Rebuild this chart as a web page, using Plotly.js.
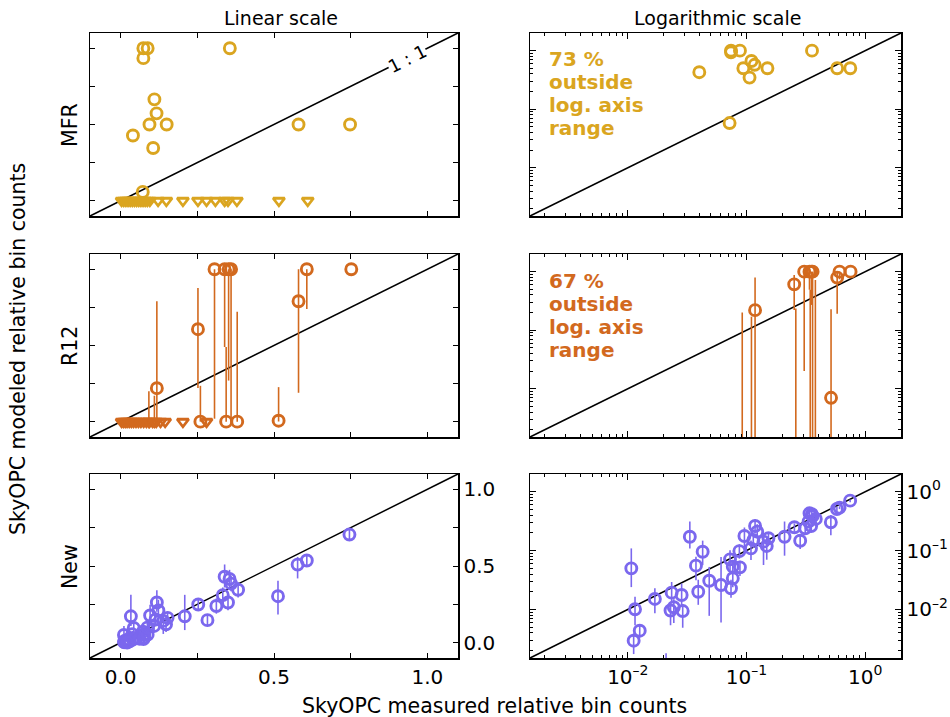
<!DOCTYPE html>
<html><head><meta charset="utf-8">
<script src="https://cdn.plot.ly/plotly-3.0.1.min.js"></script>
<style>html,body{margin:0;padding:0;background:#fff}</style>
</head><body><div id="chart" style="width:950px;height:717px"></div>
<script>
const colMFR = '#DAA520', colR12 = '#D2691E', colNew = '#7B68EE';

// ---- MFR (no uncertainty) ----
const mfrX = [0.074, 0.088, 0.356, 0.074, 0.11, 0.117, 0.094, 0.15, 0.04, 0.106, 0.58, 0.748, 0.072];
const mfrY = [1.0, 1.0, 1.0, 0.935, 0.665, 0.573, 0.5, 0.5, 0.428, 0.346, 0.5, 0.5, 0.058];
const mfrZeroX = [0.003, 0.01, 0.017, 0.024, 0.031, 0.038, 0.045, 0.052, 0.059, 0.066, 0.073, 0.08, 0.087, 0.095, 0.122, 0.149,
                  0.203, 0.252, 0.28, 0.309, 0.339, 0.35, 0.379, 0.516, 0.61];
const mfrZeroY = mfrZeroX.map(() => 0);

// ---- R12 ----
const r12X = [0.118, 0.252, 0.26, 0.306, 0.339, 0.352, 0.36, 0.344, 0.38, 0.515, 0.58, 0.607, 0.752];
const r12Y = [0.22, 0.607, 0.0005, 1.0, 1.0, 1.0, 1.0, 0.0005, 0.0005, 0.007, 0.79, 1.0, 1.0];
const r12Plus = [0.57, 0.27, 0.235, 0, 0, 0, 0, 0.49, 0.72, 0.22, 0.21, 0, 0];
const r12Minus = [0.219, 0.386, 0, 0.98, 0.51, 0.73, 0.9995, 0, 0, 0.0055, 0.6, 0.26, 0];
const r12LowX = [0.092, 0.11];
const r12LowY = [0.0005, 0.0005];
const r12LowPlus = [0.2, 0.17];
const r12ZeroX = [0.003, 0.009, 0.015, 0.021, 0.028, 0.035, 0.042, 0.05, 0.058, 0.066, 0.075, 0.084, 0.094, 0.104, 0.116, 0.13, 0.145, 0.203, 0.28];
const r12ZeroY = r12ZeroX.map(() => 0);

// ---- New ----
const newX = [0.0107, 0.0115, 0.0112, 0.0126, 0.0169, 0.0234, 0.0229, 0.0244, 0.0284, 0.029,
              0.0333, 0.0375, 0.0392, 0.0427, 0.0485, 0.061, 0.074, 0.0726, 0.0766, 0.0766,
              0.088, 0.087, 0.096, 0.109, 0.118, 0.123, 0.114, 0.139, 0.148, 0.153,
              0.209, 0.253, 0.283, 0.312, 0.339, 0.355, 0.333, 0.35, 0.383, 0.36,
              0.513, 0.577, 0.607, 0.746, 0.021];
const newY = [0.050, 0.0101, 0.00295, 0.00436, 0.0151, 0.0193, 0.0096, 0.0109, 0.0176, 0.0094,
              0.172, 0.0555, 0.020, 0.0957, 0.0308, 0.026, 0.0229, 0.071, 0.0533, 0.0339,
              0.052, 0.098, 0.177, 0.109, 0.262, 0.21, 0.151, 0.142, 0.12, 0.162,
              0.172, 0.249, 0.147, 0.239, 0.43, 0.415, 0.31, 0.262, 0.345, 0.385,
              0.303, 0.509, 0.536, 0.705, 0.001];
const newPlus = [0.059, 0.0064, 0.001, 0.0012, 0.0078, 0.010, 0.003, 0.004, 0.010, 0.003,
                 0.14, 0.023, 0.012, 0.052, 0.022, 0.052, 0.009, 0.03, 0.015, 0.012,
                 0.015, 0.03, 0.07, 0.04, 0.08, 0.07, 0.04, 0.057, 0.05, 0.04,
                 0.14, 0.04, 0.04, 0.05, 0.08, 0.06, 0.05, 0.05, 0.05, 0.05,
                 0.1, 0.05, 0.03, 0.03, 0.0008];
const newMinus = [0.026, 0.0047, 0.0012, 0.001, 0.0065, 0.0057, 0.0042, 0.005, 0.006, 0.0045,
                  0.063, 0.024, 0.008, 0.039, 0.023, 0.020, 0.007, 0.025, 0.012, 0.01,
                  0.015, 0.025, 0.07, 0.04, 0.06, 0.05, 0.04, 0.085, 0.05, 0.04,
                  0.09, 0.04, 0.04, 0.05, 0.07, 0.06, 0.05, 0.05, 0.05, 0.05,
                  0.12, 0.09, 0.03, 0.04, 0.0005];

const linTickVals = [0, 0.25, 0.5, 0.75, 1.0];
const linTickText = ['0.0', '', '0.5', '', '1.0'];
const logTickVals = [0.01, 0.1, 1];
const logTickText = ['10<sup>–2</sup>', '10<sup>–1</sup>', '10<sup>0</sup>'];
const linRange = [-0.1, 1.1];
const logRange = [Math.log10(0.0015), Math.log10(2)];

const mfrNote = ['73 %', 'outside', 'log. axis', 'range'];
const r12Note = ['67 %', 'outside', 'log. axis', 'range'];

const FONT = 'DejaVu Sans';

function circles(x, y, xa, ya, color, plus, minus) {
  const t = {
    x: x, y: y, xaxis: xa, yaxis: ya, type: 'scatter', mode: 'markers',
    marker: {symbol: 'circle-open', size: 11, color: color, line: {width: 2.9, color: color}},
    hoverinfo: 'skip', showlegend: false
  };
  if (plus) {
    t.error_y = {type: 'data', symmetric: false, array: plus, arrayminus: minus || plus.map(() => 0),
                 color: color, thickness: 1.6, width: 0};
  }
  return t;
}
function tris(x, y, xa, ya, color, plus) {
  const t = {
    x: x, y: y, xaxis: xa, yaxis: ya, type: 'scatter', mode: 'markers',
    marker: {symbol: 'triangle-down-open', size: 10, color: color, line: {width: 2.8, color: color}},
    hoverinfo: 'skip', showlegend: false
  };
  if (plus) {
    t.error_y = {type: 'data', symmetric: false, array: plus, arrayminus: plus.map(() => 0),
                 color: color, thickness: 1.6, width: 0};
  }
  return t;
}

const data = [
  // MFR
  tris(mfrZeroX, mfrZeroY, 'x', 'y', colMFR),
  circles(mfrX, mfrY, 'x', 'y', colMFR),
  circles(mfrX, mfrY, 'x2', 'y2', colMFR),
  // R12
  tris(r12ZeroX, r12ZeroY, 'x3', 'y3', colR12),
  tris(r12LowX, r12LowY, 'x3', 'y3', colR12, r12LowPlus),
  circles(r12X, r12Y, 'x3', 'y3', colR12, r12Plus, r12Minus),
  tris(r12LowX, r12LowY, 'x4', 'y4', colR12, r12LowPlus),
  circles(r12X, r12Y, 'x4', 'y4', colR12, r12Plus, r12Minus),
  // New
  circles(newX, newY, 'x5', 'y5', colNew, newPlus, newMinus),
  circles(newX, newY, 'x6', 'y6', colNew, newPlus, newMinus)
];

const colL = [90 / 950, 458 / 950], colR = [530 / 950, 901 / 950];
const rowT = [1 - 216 / 717, 1 - 33 / 717], rowM = [1 - 437 / 717, 1 - 254 / 717], rowB = [1 - 658 / 717, 1 - 474 / 717];

const base = {
  showgrid: false, zeroline: false, showline: true, linecolor: 'black', linewidth: 1.5,
  mirror: 'allticks', ticks: 'inside', ticklen: 5, tickwidth: 1, tickcolor: 'black',
  tickfont: {family: FONT, size: 20, color: 'black'}, fixedrange: true
};
function linAx(domain, anchor, labels, side) {
  return Object.assign({}, base, {
    domain: domain, anchor: anchor, range: linRange, tickmode: 'array',
    tickvals: linTickVals, ticktext: linTickText, showticklabels: labels, side: side
  });
}
function logAx(domain, anchor, labels, side) {
  return Object.assign({}, base, {
    type: 'log', domain: domain, anchor: anchor, range: logRange, tickmode: 'array',
    tickvals: logTickVals, ticktext: logTickText, showticklabels: labels, side: side, ticklen: 6,
    minor: {ticks: 'inside', ticklen: 3, tickwidth: 1, tickcolor: 'black', dtick: 'D1', showgrid: false}
  });
}

function diag(n) {
  const s = n === 1 ? '' : String(n);
  return {type: 'line', xref: 'x' + s + ' domain', yref: 'y' + s + ' domain', x0: 0, y0: 0, x1: 1, y1: 1,
          line: {color: 'black', width: 1.5}, layer: 'below'};
}

const ann = [];
function txt(px, py, text, opts) {
  ann.push(Object.assign({xref: 'paper', yref: 'paper', x: px / 950, y: 1 - py / 717, text: text,
    showarrow: false, xanchor: 'center', yanchor: 'middle',
    font: {family: FONT, size: 20.5, color: 'black'}}, opts || {}));
}
txt(281, 18, 'Linear scale', {font: {family: FONT, size: 19, color: 'black'}});
txt(717, 18, 'Logarithmic scale', {font: {family: FONT, size: 19, color: 'black'}});
txt(495, 706, 'SkyOPC measured relative bin counts');
txt(18, 349, 'SkyOPC modeled relative bin counts', {textangle: -90});
txt(70, 125, 'MFR', {textangle: -90});
txt(70, 346, 'R12', {textangle: -90});
txt(70, 567, 'New', {textangle: -90});
mfrNote.forEach((s, i) => txt(547, 59 + 23 * i, '<b>' + s + '</b>',
  {xanchor: 'left', font: {family: FONT, size: 20, color: colMFR}}));
r12Note.forEach((s, i) => txt(547, 281 + 23 * i, '<b>' + s + '</b>',
  {xanchor: 'left', font: {family: FONT, size: 20, color: colR12}}));
ann.push({xref: 'x', yref: 'y', x: 0.935, y: 0.935, text: '1 : 1', showarrow: false,
  textangle: -26.5, bgcolor: 'white', borderpad: 0, font: {family: FONT, size: 18, color: 'black'}});

const layout = {
  width: 950, height: 717, margin: {l: 0, r: 0, t: 0, b: 0},
  paper_bgcolor: 'white', plot_bgcolor: 'white', showlegend: false,
  font: {family: FONT, size: 18, color: 'black'},
  xaxis: linAx(colL, 'y', false, 'bottom'),
  yaxis: linAx(rowT, 'x', false, 'left'),
  xaxis2: logAx(colR, 'y2', false, 'bottom'),
  yaxis2: logAx(rowT, 'x2', false, 'left'),
  xaxis3: linAx(colL, 'y3', false, 'bottom'),
  yaxis3: linAx(rowM, 'x3', false, 'left'),
  xaxis4: logAx(colR, 'y4', false, 'bottom'),
  yaxis4: logAx(rowM, 'x4', false, 'left'),
  xaxis5: linAx(colL, 'y5', true, 'bottom'),
  yaxis5: linAx(rowB, 'x5', true, 'right'),
  xaxis6: logAx(colR, 'y6', true, 'bottom'),
  yaxis6: logAx(rowB, 'x6', true, 'right'),
  shapes: [1, 2, 3, 4, 5, 6].map(diag),
  annotations: ann
};

Plotly.newPlot('chart', data, layout, {staticPlot: true, displayModeBar: false});
</script></body></html>
